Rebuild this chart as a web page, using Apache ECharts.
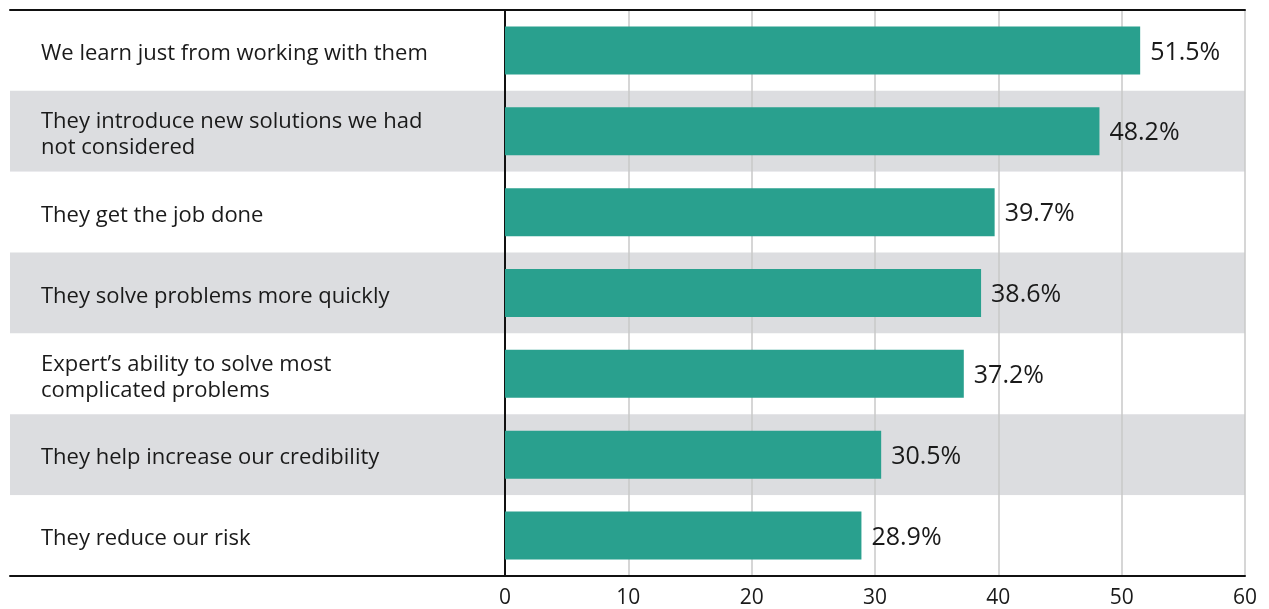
<!DOCTYPE html>
<html>
<head>
<meta charset="utf-8">
<script src="https://cdn.jsdelivr.net/npm/echarts@6/dist/echarts.min.js"></script>
<style>
html,body{margin:0;padding:0;background:#fff;}
#chart{width:1269px;height:609px;}
</style>
</head>
<body>
<div id="chart"></div>
<script>
const categories = [
  "We learn just from working with them",
  "They introduce new solutions we had\nnot considered",
  "They get the job done",
  "They solve problems more quickly",
  "Expert\u2019s ability to solve most\ncomplicated problems",
  "They help increase our credibility",
  "They reduce our risk"
];
const values = [51.5, 48.2, 39.7, 38.6, 37.2, 30.5, 28.9];
const axisMin = 0, axisMax = 60, axisStep = 10;

const FONT = '"Open Sans"';
const chart = echarts.init(document.getElementById('chart'), null, {renderer: 'canvas'});
chart.setOption({
  animation: false,
  backgroundColor: '#fff',
  textStyle: {fontFamily: FONT},
  grid: [
    {left: 10, right: 24, top: 10, bottom: 33, containLabel: false},
    {left: 505, right: 24, top: 10, bottom: 33, containLabel: false}
  ],
  xAxis: [
    {gridIndex: 0, type: 'value', min: 0, max: 1, position: 'top',
     axisLine: {show: true, lineStyle: {color: '#111', width: 2}},
     axisTick: {show: false}, axisLabel: {show: false}, splitLine: {show: false}},
    {gridIndex: 0, type: 'value', min: 0, max: 1, position: 'bottom',
     axisLine: {show: true, lineStyle: {color: '#111', width: 2}},
     axisTick: {show: false}, axisLabel: {show: false}, splitLine: {show: false}},
    {gridIndex: 1, type: 'value', min: axisMin, max: axisMax, interval: axisStep, position: 'bottom',
     axisLine: {show: false}, axisTick: {show: false},
     axisLabel: {show: true, margin: 12, fontSize: 21, color: '#1a1a1a', fontFamily: FONT},
     splitLine: {show: true, lineStyle: {color: '#c8c8c8', width: 1.5}}}
  ],
  yAxis: [
    {gridIndex: 0, type: 'category', data: categories, inverse: true,
     axisLine: {show: false}, axisTick: {show: false},
     splitArea: {show: true, areaStyle: {color: ['#ffffff', '#dcdde0']}},
     axisLabel: {show: true, inside: true, margin: 31, align: 'left',
                 formatter: function (v) {
                   return '{s| }\n' + v.split('\n').map(function (l) { return '{t|' + l + '}'; }).join('\n');
                 },
                 rich: {
                   s: {fontSize: 1, lineHeight: 7},
                   t: {fontSize: 22, lineHeight: 26, color: '#1a1a1a', fontFamily: FONT}
                 }}},
    {gridIndex: 1, type: 'category', data: categories, inverse: true,
     axisLine: {show: true, lineStyle: {color: '#111', width: 2}},
     axisTick: {show: false}, axisLabel: {show: false}, splitLine: {show: false}}
  ],
  series: [{
    type: 'bar',
    xAxisIndex: 2,
    yAxisIndex: 1,
    data: values,
    barWidth: 48,
    itemStyle: {color: '#29a08e'},
    label: {show: true, position: 'right', distance: 10, offset: [0, 2], formatter: '{c}%',
            fontSize: 25, color: '#1a1a1a', fontFamily: FONT},
    z: 3
  }]
});
</script>
</body>
</html>
